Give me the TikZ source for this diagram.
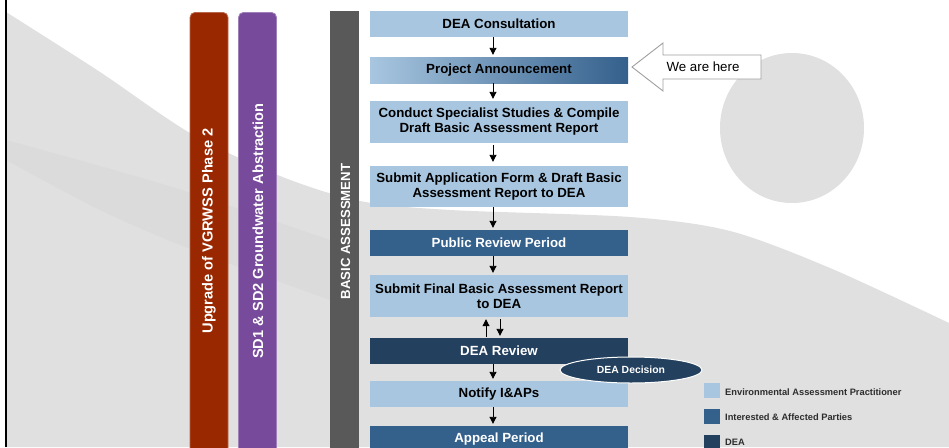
\documentclass[tikz,border=0pt]{standalone}
\usepackage{fontspec}
\setmainfont{Liberation Sans}
\usetikzlibrary{arrows.meta,shapes.geometric}
\definecolor{eap}{RGB}{168,198,224}
\definecolor{iap}{RGB}{52,96,140}
\definecolor{dea}{RGB}{35,64,94}
\definecolor{bgg}{RGB}{224,224,224}
\definecolor{bgd}{RGB}{208,208,208}
\definecolor{barred}{RGB}{153,40,0}
\definecolor{barpurple}{RGB}{120,74,155}
\definecolor{bargray}{RGB}{89,89,89}
\definecolor{legtext}{RGB}{45,45,45}
\tikzset{
  stepbox/.style={rectangle, minimum width=258pt, inner sep=0pt, align=center,
    font=\bfseries\fontsize{13.3}{15}\selectfont},
  lightbox/.style={stepbox, fill=eap, text=black},
  midbox/.style={stepbox, fill=iap, text=white},
  darkbox/.style={stepbox, fill=dea, text=white},
  conn/.style={draw=black, line width=0.9pt, -{Triangle[length=7pt,width=7pt]}, shorten >=2pt},
  vbar/.style={rectangle, rounded corners=5pt, minimum width=38pt, minimum height=460pt, anchor=north, inner sep=0pt, line width=0.8pt},
  vtext/.style={rotate=90, text=white, font=\bfseries\fontsize{14.6}{16}\selectfont},
  legsq/.style={rectangle, minimum width=16pt, minimum height=15pt, inner sep=0pt},
  legtxt/.style={anchor=west, text=legtext, font=\bfseries\fontsize{9.3}{11}\selectfont, inner sep=0pt}
}
\begin{document}
\begin{tikzpicture}[x=1pt,y=-1pt]
\useasboundingbox (0,0) rectangle (949,447);
\clip (0,0) rectangle (949,447);
\fill[white] (0,0) rectangle (949,447);
% background
\fill[bgg] plot[smooth] coordinates {(6,12) (100,72) (190,133) (280,176) (360,201) (450,210) (630,217) (730,231) (830,268) (949,323)} -- (949,447) -- (6,447) -- cycle;
\fill[bgd, opacity=0.3] plot[smooth] coordinates {(6,140) (100,166) (188,192) (330,240)} -- plot[smooth] coordinates {(330,300) (188,248) (100,210) (6,160)} -- cycle;
\fill[bgg] (792,128) ellipse [x radius=72, y radius=75];
\draw[black, line width=2pt] (5.5,0) -- (5.5,447);
% vertical bars
\node[vbar, fill=barred, draw=barred!70!white] (rbar) at (209,12) {};
\node[vbar, fill=barpurple, draw=barpurple!70!white] (pbar) at (257.5,12) {};
\node[rectangle, fill=bargray, minimum width=29pt, minimum height=460pt, anchor=north, inner sep=0pt] (gbar) at (344.5,11) {};
\node[vtext] (rtext) at (209,231) {Upgrade of VGRWSS Phase 2};
\node[vtext] (ptext) at (258,231) {SD1 \& SD2 Groundwater Abstraction};
\node[rotate=90, text=white, font=\bfseries\fontsize{13.2}{15}\selectfont] (gtext) at (345.5,231.5) {BASIC ASSESSMENT};
% steps
\node[lightbox, minimum height=26pt] (c1) at (499,24) {DEA Consultation};
\node[stepbox, minimum height=26pt, left color=eap, middle color=eap, right color=iap, text=black] (c2) at (499,70) {Project Announcement};
\node[lightbox, minimum height=42pt] (c3) at (499,122) {Conduct Specialist Studies \& Compile\\Draft Basic Assessment Report};
\node[lightbox, minimum height=41pt] (c4) at (499,186.5) {Submit Application Form \& Draft Basic\\Assessment Report to DEA};
\node[midbox, minimum height=26pt] (c5) at (499,243) {Public Review Period};
\node[lightbox, minimum height=42pt] (c6) at (499,296) {Submit Final Basic Assessment Report\\to DEA};
\node[darkbox, minimum height=26pt] (c7) at (499,351) {DEA Review};
\node[lightbox, minimum height=26pt] (c8) at (499,394) {Notify I\&APs};
\node[midbox, minimum height=26pt] (c9) at (499,439) {Appeal Period};
% connectors
\coordinate (ax) at (493,0);
\coordinate (ux) at (486,0);
\coordinate (dx) at (500,0);
\draw[conn] (c1.south -| ax) -- (c2.north -| ax);
\draw[conn] (c2.south -| ax) -- (c3.north -| ax);
\draw[conn, shorten <=2pt, shorten >=4pt] (c3.south -| ax) -- (c4.north -| ax);
\draw[conn] (c4.south -| ax) -- (c5.north -| ax);
\draw[conn] (c5.south -| ax) -- (c6.north -| ax);
\draw[conn, shorten <=1pt] (c7.north -| ux) -- (c6.south -| ux);
\draw[conn, shorten <=2pt] (c6.south -| dx) -- (c7.north -| dx);
\draw[conn] (c7.south -| ax) -- (c8.north -| ax);
\draw[conn] (c8.south -| ax) -- (c9.north -| ax);
% decision
\node[ellipse, fill=dea, draw=white, line width=1pt, minimum width=142pt, minimum height=26pt, inner sep=0pt, text=white, font=\bfseries\fontsize{10.4}{12}\selectfont] (dec) at (631,370) {DEA Decision};
% we are here
\draw[draw=gray!75, fill=white, line width=0.9pt] (632,67) -- (663,43) -- (663,55) -- (761,55) -- (761,79) -- (663,79) -- (663,91) -- cycle;
\node[font=\fontsize{13.3}{15}\selectfont, inner sep=0pt] (here) at (703,67) {We are here};
% legend
\node[legsq, fill=eap] (l1) at (712,390.5) {};
\node[legsq, fill=iap] (l2) at (712,416) {};
\node[legsq, fill=dea] (l3) at (712,442) {};
\node[legtxt] (lt1) at (725,392) {Environmental Assessment Practitioner};
\node[legtxt] (lt2) at (725,417) {Interested \& Affected Parties};
\node[legtxt] (lt3) at (725,442) {DEA};
\end{tikzpicture}
\end{document}
